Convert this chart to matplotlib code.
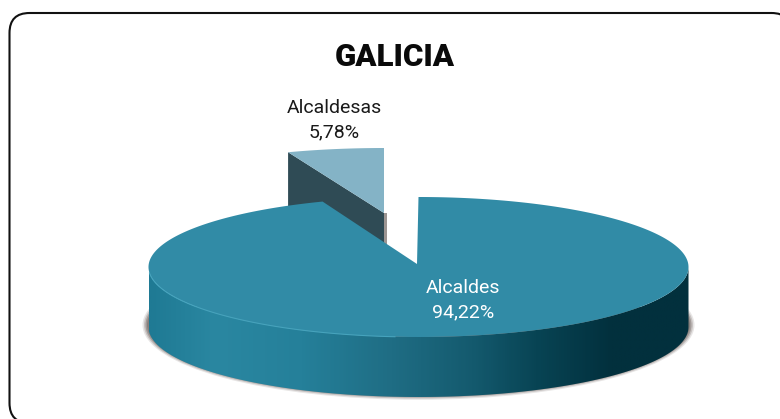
import numpy as np
import matplotlib
matplotlib.use('Agg')
import matplotlib.pyplot as plt
from matplotlib.patches import FancyBboxPatch, Polygon, Ellipse, Rectangle
from matplotlib.colors import LinearSegmentedColormap

categories = ['Alcaldesas', 'Alcaldes']
values = [5.78, 94.22]
labels = ['5,78%', '94,22%']
title = 'GALICIA'

# pie drawn squashed, pixel geometry of the picture
cx, cy = 418.5, 267
rx, ry = 270, 70
depth = 60
apex = (417, 264)
small_apex = (384, 213)
small_ry = 65

small_angle = values[0] / sum(values) * 360
a0 = np.radians(90)
a1 = np.radians(90 + small_angle)

fig = plt.figure(figsize=(7.8, 4.19), dpi=100)
ax = fig.add_axes([0, 0, 1, 1])
ax.set_xlim(0, 780)
ax.set_ylim(419, 0)
ax.axis('off')

# frame runs off the right and bottom of the picture
ax.add_patch(FancyBboxPatch((9.5, 13), 782, 410, boxstyle='round,pad=0,rounding_size=20',
                            fc='white', ec='#111111', lw=1.5, clip_on=True))


def rim(a, b, n=200):
    t = np.linspace(a, b, n)
    return cx + rx * np.cos(t), cy - ry * np.sin(t)


# small slice, pulled out
ox, oy = small_apex
t = np.linspace(a0, a1, 40)
xs = ox + rx * np.cos(t)
ys = oy - small_ry * np.sin(t)
lx, ly = xs[-1], ys[-1]
ax.add_patch(Polygon([(lx, ly), (ox, oy), (ox, oy + depth), (lx, ly + depth)],
                     fc='#2f4b55', ec='none', zorder=2))
ax.add_patch(Rectangle((ox, oy), 2.5, 34, fc='#9c9592', ec='none', zorder=2))
ax.add_patch(Polygon(np.column_stack([np.r_[ox, xs], np.r_[oy, ys]]),
                     fc='#84b3c6', ec='none', zorder=3))

# soft shadow under the big slice, lower half only
for extra, alpha in [(12, 0.18), (9, 0.3), (6, 0.5), (3, 0.7)]:
    shadow = Ellipse((cx, cy + depth - 2), 2 * rx + extra, 2 * ry + extra * 0.8,
                     fc='#7d7470', ec='none', alpha=alpha, zorder=1)
    ax.add_patch(shadow)
    shadow.set_clip_path(Rectangle((0, cy + 40), 780, 200, transform=ax.transData))

# side wall with gradient
wall_cmap = LinearSegmentedColormap.from_list('wall', [
    (0.00, '#1f7a94'), (0.12, '#2a87a1'), (0.28, '#25809a'), (0.45, '#1f6d84'),
    (0.60, '#145a6e'), (0.72, '#084454'), (0.86, '#02303d'), (1.00, '#02303d')])
grad = np.linspace(0, 1, 300).reshape(1, -1)
im = ax.imshow(grad, cmap=wall_cmap, extent=[cx - rx, cx + rx, cy + ry + depth, cy - ry],
               aspect='auto', zorder=4)
bx, by = rim(np.pi, 2 * np.pi)
wall = Polygon(np.r_[np.column_stack([bx, by + depth]),
                     np.column_stack([bx[::-1], by[::-1]])],
               transform=ax.transData, fc='none', ec='none', zorder=4)
ax.add_patch(wall)
im.set_clip_path(wall)
ax.set_xlim(0, 780)
ax.set_ylim(419, 0)

# top of the big slice
tx, ty = rim(a1, a0 + 2 * np.pi, 400)
ax.add_patch(Polygon(np.r_[[apex], np.column_stack([tx, ty])],
                     fc='#318ba6', ec='none', zorder=5))
hx, hy = rim(np.radians(185), np.radians(265), 120)
ax.plot(hx, hy, color='#45a3bd', lw=0.8, zorder=6)

ax.text(395, 57.5, title, ha='center', va='center', fontsize=22.5, fontweight='black',
        family='Roboto', color='#0a0a0a', zorder=7)
text_style = dict(ha='center', va='center', fontsize=14, family='Roboto', zorder=7)
ax.text(334, 108, categories[0], color='#1a1a1a', **text_style)
ax.text(334, 132, labels[0], color='#1a1a1a', **text_style)
ax.text(463, 288, categories[1], color='white', **text_style)
ax.text(463, 312, labels[1], color='white', **text_style)

fig.savefig('out.png', dpi=100)
